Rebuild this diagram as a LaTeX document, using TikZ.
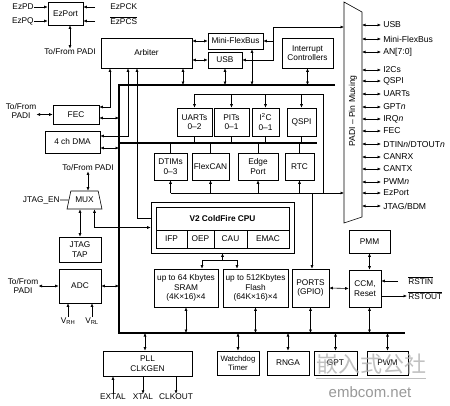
\documentclass[tikz,border=0pt]{standalone}
\usepackage{fontspec}
\setmainfont{Liberation Sans}
\newfontfamily\cjk{Noto Sans CJK SC}
\usetikzlibrary{arrows.meta,shapes.geometric}

\begin{document}
\begin{tikzpicture}[x=1pt,y=-1pt,line width=.6pt,
	>={Latex[length=3.5pt,width=3pt]},
	blk/.style={draw, align=center, inner sep=0pt, font=\fontsize{8.3}{9.5}\selectfont},
	txt/.style={align=center, inner sep=0pt, font=\fontsize{8.3}{9.5}\selectfont},
	pin/.style={anchor=west, inner sep=0pt, font=\fontsize{8.6}{10}\selectfont},
	bus/.style={line width=2.6pt}]
	\fill[white] (0,0) rectangle (450,405);
	\useasboundingbox (0,0) rectangle (450,405);

	\node[blk, minimum width=35, minimum height=23] (ezport) at (65.5,13.5) {EzPort};
	\node[txt, anchor=east] (ezpd) at (34,7) {EzPD};
	\node[txt, anchor=east] (ezpq) at (34,21) {EzPQ};
	\node[txt, anchor=west] (ezpck) at (110,7) {EzPCK};
	\node[txt, anchor=west] (ezpcs) at (110,21) {$\overline{\hbox{EzPCS}}$};
	\node[txt] (ezpadi) at (70,52) {To/From PADI};
	\draw[->] (ezpd.east) -- (ezpd.east -| ezport.west);
	\draw[->] (ezpq.east) -- (ezpq.east -| ezport.west);
	\draw[->] ([xshift=-15pt]ezpck.west) -- (ezpck.west -| ezport.east);
	\draw[->] ([xshift=-15pt]ezpcs.west) -- (ezpcs.west -| ezport.east);
	\draw[<->] (ezpadi.north) -- (ezpadi.north |- ezport.south);

	\node[blk, minimum width=91, minimum height=30] (arb) at (146.5,53) {Arbiter};
	\node[blk, minimum width=55, minimum height=16] (mfb) at (235.5,41) {Mini-FlexBus};
	\node[blk, minimum width=34, minimum height=16] (usb) at (225,60) {USB};
	\node[blk, minimum width=51, minimum height=30] (intc) at (307.5,53) {Interrupt\\Controllers};
	\node[blk, minimum width=46, minimum height=19] (fec) at (76,114.5) {FEC};
	\node[txt] (fecpadi) at (21,111) {To/From\\PADI};
	\node[blk, minimum width=55, minimum height=22] (dma) at (72.5,142) {4 ch DMA};

	\node[blk, minimum width=35, minimum height=28] (uarts) at (194.5,122) {UARTs\\0--2};
	\node[blk, minimum width=35, minimum height=28] (pits) at (231.5,122) {PITs\\0--1};
	\node[blk, minimum width=27, minimum height=28] (i2c) at (265.5,122) {I\textsuperscript{2}C\\0--1};
	\node[blk, minimum width=29, minimum height=28] (qspi) at (301.5,122) {QSPI};
	\node[blk, minimum width=33, minimum height=27] (dtims) at (170.5,166.5) {DTIMs\\0--3};
	\node[blk, minimum width=37, minimum height=27] (flexcan) at (210.5,166.5) {FlexCAN};
	\node[blk, minimum width=40, minimum height=27] (edge) at (258,166.5) {Edge\\Port};
	\node[blk, minimum width=29, minimum height=27] (rtc) at (299.5,166.5) {RTC};

	\node[txt] (muxpadi) at (88,168) {To/From PADI};
	\node[draw, trapezium, trapezium angle=66, trapezium stretches=true, minimum width=35, minimum height=18, inner sep=0pt, font=\fontsize{8.3}{9.5}\selectfont] (mux) at (84.5,200) {MUX};
	\node[txt, anchor=east] (jen) at (60,200) {JTAG\_EN};
	\node[blk, minimum width=42, minimum height=25] (tap) at (80,249.5) {JTAG\\TAP};
	\node[blk, minimum width=42, minimum height=34] (adc) at (80,286) {ADC};
	\node[txt] (adcpadi) at (23,286) {To/From\\PADI};
	\node[txt] (vrh) at (68,321) {V\textsubscript{RH}};
	\node[txt] (vrl) at (92,321) {V\textsubscript{RL}};

	\node[blk, minimum width=143, minimum height=51] (cpu) at (222.5,227.5) {};
	\node[blk, minimum width=133, minimum height=41] (core) at (222.5,227.5) {};
	\node[txt, font=\bfseries\fontsize{8.3}{9.5}\selectfont] (cputitle) at (222.5,219) {V2 ColdFire CPU};
	\node[blk, minimum width=31, minimum height=18] (ifp) at (171.5,239) {IFP};
	\node[blk, minimum width=27, minimum height=18] (oep) at (200.5,239) {OEP};
	\node[blk, minimum width=33, minimum height=18] (cau) at (230.5,239) {CAU};
	\node[blk, minimum width=42, minimum height=18] (emac) at (268,239) {EMAC};

	\node[blk, minimum width=64, minimum height=38] (sram) at (186,288) {up to 64 Kbytes\\SRAM\\(4K×16)×4};
	\node[blk, minimum width=65, minimum height=38] (flash) at (255.5,288) {up to 512Kbytes\\Flash\\(64K×16)×4};
	\node[blk, minimum width=37, minimum height=38] (ports) at (310.5,288) {PORTS\\(GPIO)};
	\node[blk, minimum width=32, minimum height=37] (ccm) at (365,288.5) {CCM,\\Reset};
	\node[blk, minimum width=41, minimum height=23] (pmm) at (369.5,241.5) {PMM};
	\node[txt, anchor=west] (rstin) at (408,281) {$\overline{\hbox{RSTIN}}$};
	\node[txt, anchor=west] (rstout) at (408,296) {$\overline{\hbox{RSTOUT}}$};

	\node[blk, minimum width=89, minimum height=25] (pll) at (147.5,363.5) {PLL\\CLKGEN};
	\node[txt] (extal) at (113,397) {EXTAL};
	\node[txt] (xtal) at (143,397) {XTAL};
	\node[txt] (clkout) at (176,397) {CLKOUT};
	\node[blk, minimum width=42, minimum height=24, font=\fontsize{7.8}{9}\selectfont] (wdt) at (238,363) {Watchdog\\Timer};
	\node[blk, minimum width=42, minimum height=24] (rnga) at (288,363) {RNGA};
	\node[blk, minimum width=43, minimum height=24] (gpt) at (335.5,363) {GPT};
	\node[blk, minimum width=41, minimum height=24] (pwm) at (387.5,363) {PWM};

	\coordinate (bt) at (119,85);
	\coordinate (btr) at (335,85);
	\coordinate (bm) at (119,143);
	\coordinate (bmr) at (317,143);
	\coordinate (bb) at (119,333);
	\coordinate (bbr) at (405,333);
	\draw[bus] (btr) -- (bt) -- (bb) -- (bbr);
	\draw[bus] (bm) -- (bmr);

	\coordinate (padiL) at (344,0);
	\coordinate (padiR) at (362,0);
	\draw (344,2) -- (362,12) -- (362,217) -- (344,223) -- cycle;
	\node[txt, rotate=90, font=\fontsize{8.6}{10}\selectfont] (padi) at (353,111) {PADI – Pin Muxing};
	\foreach \y/\t [count=\i] in {25/USB, 39/Mini-FlexBus, 52/{AN[7:0]}, 70/I2Cs, 81/QSPI, 94/UARTs,
		107/{GPT\textit{n}}, 119/{IRQ\textit{n}}, 131/FEC, 144/{DTIN\textit{n}/DTOUT\textit{n}}, 157/CANRX,
		169/CANTX, 182/{PWM\textit{n}}, 193/EzPort, 206/{JTAG/BDM}}
	{
		\node[pin] (pin\i) at (383,\y) {\t};
		\draw[<->] (pin\i.west -| padiR) -- ([xshift=-2pt]pin\i.west);
	}

	\draw[<->] (arb.east |- mfb) -- (mfb.west);
	\draw[<->] (arb.east |- usb) -- (usb.west);
	\draw[<->] ([xshift=36.5pt]arb.south) -- ([xshift=36.5pt]arb.south |- bt);
	\draw[<->] (usb.south) -- (usb.south |- bt);
	\draw[<->] ([xshift=16.5pt]mfb.south) -- ([xshift=16.5pt]mfb.south |- bt);
	\draw[<->] (intc.south) -- (intc.south |- bt);
	\coordinate (j1) at (273,27);
	\draw[<->] (usb.east) -| (j1) -- (j1 -| padiL);
	\draw[->] (j1 |- mfb) -- (mfb.east);

	\draw[<->] (fecpadi.east |- fec.west) -- (fec.west);
	\draw[<->] ([yshift=7.5pt]fec.east) -| ([xshift=-36.5pt]arb.south);
	\draw[<->] ([yshift=-3.5pt]fec.east) -- ([yshift=-3.5pt]fec.east -| bt);
	\draw[<->] ([yshift=6pt]dma.east) -| ([xshift=-18.5pt]arb.south);
	\draw[<->] ([yshift=-6pt]dma.east) -- ([yshift=-6pt]dma.east -| bt);
	\draw[->] ([yshift=9.5pt]cpu.west) -| ([xshift=-9.5pt]arb.south);

	\coordinate (f1) at (323,94);
	\coordinate (f2) at (323,193);
	\draw (uarts.north |- f1) -- (f1) -- (f2);
	\draw[->] (dtims.south |- f2) -- (f2 -| padiL);
	\foreach \n in {uarts,pits,i2c,qspi}
	{
		\draw[->] (\n.north |- f1) -- (\n.north);
		\draw (\n.south) -- (\n.south |- bm);
	}
	\foreach \n in {dtims,flexcan,edge,rtc}
	{
		\draw (\n.north) -- (\n.north |- bm);
		\draw[->] (\n.south |- f2) -- (\n.south);
	}
	\draw[->] ([xshift=1.5pt]ports.north |- f2) -- ([xshift=1.5pt]ports.north);

	\draw[<->] (muxpadi.south) -- (muxpadi.south |- mux.north);
	\draw (jen.east) -- (mux.west);
	\draw[<->] (tap.north) -- (tap.north |- mux.south);
	\draw[<->] ([xshift=10pt]mux.south) |- (cpu.west);
	\draw[<->] (adcpadi.east |- adc.west) -- (adc.west);
	\draw[<->] (adc.east) -- (adc.east -| bt);
	\draw[->] (vrh.north) -- (vrh.north |- adc.south);
	\draw[->] (vrl.north) -- (vrl.north |- adc.south);

	\coordinate (cpusplit) at ([yshift=-7pt]cpu.south);
	\draw[->] (cpusplit) -- (cpu.south);
	\draw[<->] ([xshift=16pt]sram.north) |- (cpusplit) -| ([xshift=-18.5pt]flash.north);
	\foreach \n in {sram,flash,ports}
		\draw[<->] (\n.south) -- (\n.south |- bb);
	\draw[<->] ([xshift=4.5pt]ccm.south) -- ([xshift=4.5pt]ccm.south |- bb);
	\draw[<->] (pmm.south) -- (pmm.south |- ccm.north);
	\draw[<->] (ports.east) -- (ccm.west);
	\draw[->] ([xshift=-10pt]rstin.west) -- (rstin.west -| ccm.east);
	\draw[<-] ([xshift=-1pt]rstout.west) -- (rstout.west -| ccm.east);

	\draw[<->] ([xshift=-2.5pt]pll.north) -- ([xshift=-2.5pt]pll.north |- bb);
	\draw[->] (extal.north) -- (extal.north |- pll.south);
	\draw[->] (xtal.north |- pll.south) -- (xtal.north);
	\draw[->] (clkout.north |- pll.south) -- (clkout.north);
	\foreach \n in {wdt,rnga,gpt,pwm}
		\draw[<->] (\n.north) -- (\n.north |- bb);

	\node[text=black!30, text opacity=.8, inner sep=0pt, font=\cjk\fontsize{22}{22}\selectfont] (wm) at (371,364) {嵌入式公社};
	\draw[black!25] ([yshift=-4pt]wm.south west) -- ([yshift=-4pt]wm.south east);
	\node[text=black!40, inner sep=0pt, font=\fontsize{15}{15}\selectfont] (wmurl) at (370,392) {embcom.net};
\end{tikzpicture}
\end{document}
